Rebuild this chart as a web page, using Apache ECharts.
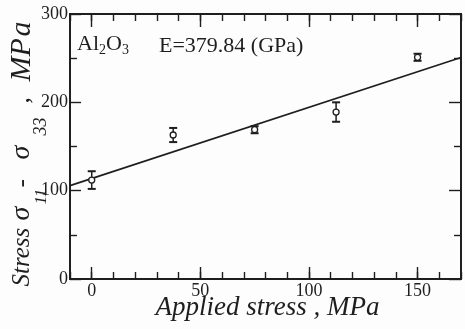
<!DOCTYPE html>
<html>
<head>
<meta charset="utf-8">
<script src="https://cdn.jsdelivr.net/npm/echarts@6/dist/echarts.min.js"></script>
<style>html,body{margin:0;padding:0;background:#fdfdfd;}#chart{width:465px;height:329px;}</style>
</head>
<body>
<div id="chart"></div>
<script>
// ---- data ----
const appliedStress = [0, 37.5, 75, 112.5, 150];
const measuredStress = [112, 163, 169, 189, 251];
const errorHalf = [10, 8, 4, 11, 4];
const fitX = [-10, 170];
const fitY = [105.7, 250.8];
const xMajorTicks = [0, 50, 100, 150];
const xMinorTicks = [-10, 0, 10, 20, 30, 40, 50, 60, 70, 80, 90, 100, 110, 120, 130, 140, 150, 160, 170];
const yMajorTicks = [0, 100, 200, 300];
const yMinorTicks = [50, 150, 250];

const serif = '"Liberation Serif", "DejaVu Serif", serif';
const ink = '#1e1e1e';

const chart = echarts.init(document.getElementById('chart'), null, {renderer: 'canvas'});

function xAx(pos, ticks, len, labels, extra) {
  return Object.assign({
    type: 'value', position: pos, min: -10, max: 170,
    axisLine: {show: true, onZero: false, lineStyle: {color: ink, width: 1.8}},
    axisTick: {show: true, inside: true, length: len, customValues: ticks, lineStyle: {color: ink, width: 1.4}},
    axisLabel: labels ? {show: true, customValues: labels, margin: 3, fontFamily: serif, fontSize: 18, color: ink} : {show: false},
    splitLine: {show: false}
  }, extra || {});
}
function yAx(pos, ticks, len, labels, extra) {
  return Object.assign({
    type: 'value', position: pos, min: 0, max: 300,
    axisLine: {show: true, onZero: false, lineStyle: {color: ink, width: 1.8}},
    axisTick: {show: true, inside: true, length: len, customValues: ticks, lineStyle: {color: ink, width: 1.4}},
    axisLabel: labels ? {show: true, customValues: labels, margin: 2, fontFamily: serif, fontSize: 18, color: ink} : {show: false},
    splitLine: {show: false}
  }, extra || {});
}

const LH = 56;
const it = {fontFamily: serif, fontStyle: 'italic', color: ink, lineHeight: LH, align: 'left'};
const option = {
  backgroundColor: '#fdfdfd',
  animation: false,
  grid: {left: 70, right: 4, top: 14, bottom: 50, containLabel: false, outerBoundsMode: 'none'},
  xAxis: [
    xAx('bottom', xMajorTicks, 12, xMajorTicks, {
      name: 'Applied stress , MPa', nameLocation: 'middle', nameGap: 15, nameMoveOverlap: false,
      nameTextStyle: {fontFamily: serif, fontStyle: 'italic', fontSize: 27, color: ink, verticalAlign: 'top', padding: [0, 0, 0, 4]}
    }),
    xAx('bottom', xMinorTicks, 7, null),
    xAx('top', xMajorTicks, 13, null),
    xAx('top', xMinorTicks, 7, null)
  ],
  yAxis: [
    yAx('left', yMajorTicks, 11, yMajorTicks, {
      name: '{a1|Stress}{g1|σ}{s1|11}{a2|-}{g2|σ}{s2|33}{a3|,}{m1|M}{m2|P}{m3|a}', nameLocation: 'middle', nameGap: 20, nameMoveOverlap: false,
      nameTextStyle: {
        fontFamily: serif, fontStyle: 'italic', fontSize: 24, color: ink,
        padding: [0, 12, 0, 0],
        rich: {
          a1: Object.assign({}, it, {fontSize: 25, width: 66}),
          g1: Object.assign({}, it, {fontSize: 28, width: 16}),
          s1: Object.assign({}, it, {fontSize: 17, width: 17, verticalAlign: 'bottom', lineHeight: 17}),
          a2: Object.assign({}, it, {fontSize: 25, width: 28}),
          g2: Object.assign({}, it, {fontSize: 28, width: 24}),
          s2: Object.assign({}, it, {fontSize: 18, width: 32, verticalAlign: 'bottom', lineHeight: 18}),
          a3: Object.assign({}, it, {fontSize: 25, width: 22}),
          m1: Object.assign({}, it, {fontSize: 30, width: 25}),
          m2: Object.assign({}, it, {fontSize: 30, width: 20}),
          m3: Object.assign({}, it, {fontSize: 30, width: 18})
        }
      }
    }),
    yAx('left', yMinorTicks, 7, null),
    yAx('right', yMajorTicks, 12, null),
    yAx('right', yMinorTicks, 7, null)
  ],
  graphic: [
    {type: 'text', left: 77, top: 33, style: {
      text: '{n|Al}{s|2}{n|O}{s|3}', fill: ink,
      rich: {
        n: {fontFamily: serif, fontSize: 22, fill: ink, lineHeight: 26},
        s: {fontFamily: serif, fontSize: 14, fill: ink, verticalAlign: 'bottom', lineHeight: 14}
      }
    }},
    {type: 'text', left: 159, top: 35, style: {text: 'E=379.84 (GPa)', fontFamily: serif, fontSize: 22, fill: ink}}
  ],
  series: [
    {
      type: 'line', xAxisIndex: 0, yAxisIndex: 0, symbol: 'none',
      data: fitX.map((x, i) => [x, fitY[i]]),
      lineStyle: {color: ink, width: 1.6}, z: 2
    },
    {
      type: 'custom', xAxisIndex: 0, yAxisIndex: 0, z: 3,
      data: appliedStress.map((x, i) => [x, measuredStress[i], errorHalf[i]]),
      renderItem: function (params, api) {
        const x = api.value(0), y = api.value(1), e = api.value(2);
        const c = api.coord([x, y]);
        const top = api.coord([x, y + e]);
        const bot = api.coord([x, y - e]);
        const hw = 4;
        const st = {stroke: ink, lineWidth: 1.5, fill: null};
        return {
          type: 'group',
          children: [
            {type: 'line', shape: {x1: c[0], y1: top[1], x2: c[0], y2: bot[1]}, style: st},
            {type: 'line', shape: {x1: c[0] - hw, y1: top[1], x2: c[0] + hw, y2: top[1]}, style: {stroke: ink, lineWidth: 2}},
            {type: 'line', shape: {x1: c[0] - hw, y1: bot[1], x2: c[0] + hw, y2: bot[1]}, style: {stroke: ink, lineWidth: 2}},
            {type: 'circle', shape: {cx: c[0], cy: c[1], r: 3}, style: {stroke: ink, lineWidth: 1.3, fill: '#fdfdfd'}}
          ]
        };
      }
    }
  ]
};
chart.setOption(option);
</script>
</body>
</html>
